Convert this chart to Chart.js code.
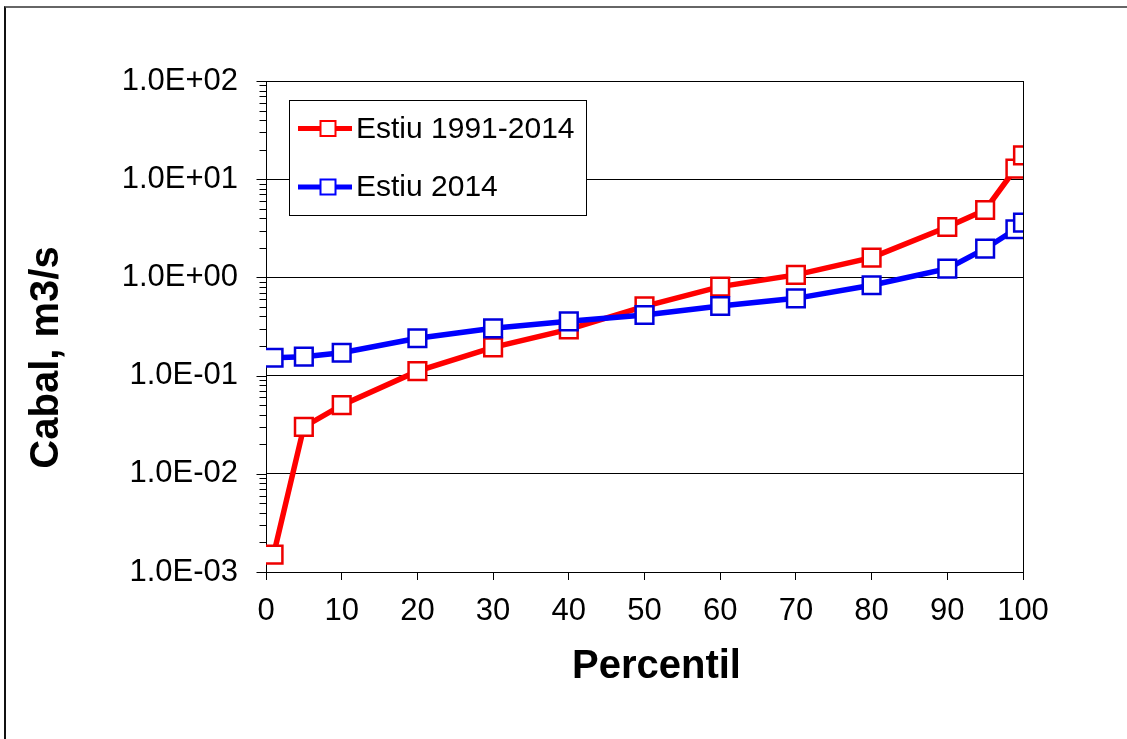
<!DOCTYPE html>
<html>
<head>
<meta charset="utf-8">
<title>Cabal - Percentil</title>
<script src="https://cdn.jsdelivr.net/npm/chart.js@4.4.1/dist/chart.umd.min.js"></script>
<style>
  body { margin: 0; background: #fff; }
  #frame { position: absolute; left: 4px; top: 6px; width: 1123px; height: 733px;
           border-top: 2px solid #666; border-left: 2px solid #111; }
  #wrap { position: absolute; left: 0; top: 0; width: 1127px; height: 739px; }
</style>
</head>
<body>
<div id="frame"></div>
<div id="wrap"><canvas id="myChart" width="1127" height="739"></canvas></div>
<script>
// percentile flow curves, summer period
const percentiles = [1, 5, 10, 20, 30, 40, 50, 60, 70, 80, 90, 95, 99, 100];
const estiu19912014 = [0.0015, 0.030, 0.050, 0.111, 0.194, 0.296, 0.508, 0.805, 1.06, 1.59, 3.26, 4.86, 12.8, 17.5];
const estiu2014 = [0.152, 0.156, 0.171, 0.240, 0.303, 0.357, 0.414, 0.511, 0.612, 0.832, 1.23, 1.96, 3.09, 3.61];
const seriesLabels = ['Estiu 1991-2014', 'Estiu 2014'];

const xTickValues = [0, 10, 20, 30, 40, 50, 60, 70, 80, 90, 100];
const yTickValues = [0.001, 0.01, 0.1, 1, 10, 100];

const xTitle = 'Percentil';
const yTitle = 'Cabal, m3/s';

const FONT = '"Liberation Sans", Arial, sans-serif';

function expLabel(v) {
    const e = Math.round(Math.log10(v));
    return '1.0E' + (e < 0 ? '-' : '+') + String(Math.abs(e)).padStart(2, '0');
}

function toPoints(values) {
    return percentiles.map((p, i) => ({ x: p, y: values[i] }));
}

// y tick marks outside the axis: long for decades, short for 2..9
const yTickMarks = {
    id: 'yTickMarks',
    afterDraw(chart) {
        const ctx = chart.ctx;
        const y = chart.scales.y;
        const left = chart.chartArea.left + 0.5;
        ctx.save();
        ctx.strokeStyle = '#000';
        ctx.lineWidth = 1;
        y.ticks.forEach(t => {
            const py = Math.round(y.getPixelForValue(t.value)) + 0.5;
            const len = t.major ? 10 : 7;
            ctx.beginPath();
            ctx.moveTo(left - len, py);
            ctx.lineTo(left, py);
            ctx.stroke();
        });
        // right edge of the plot
        const a = chart.chartArea;
        ctx.beginPath();
        ctx.moveTo(a.right + 0.5, a.top);
        ctx.lineTo(a.right + 0.5, a.bottom + 1);
        ctx.stroke();
        ctx.restore();
    }
};

// boxed legend inside the plot
const boxLegend = {
    id: 'boxLegend',
    afterDraw(chart) {
        const ctx = chart.ctx;
        const a = chart.chartArea;
        const x0 = a.left + 23, y0 = a.top + 19, w = 297, h = 115;
        ctx.save();
        ctx.fillStyle = '#fff';
        ctx.fillRect(x0, y0, w, h);
        ctx.strokeStyle = '#000';
        ctx.lineWidth = 1;
        ctx.strokeRect(x0 + 0.5, y0 + 0.5, w, h);
        chart.data.datasets.forEach((ds, i) => {
            const cy = y0 + 28.5 + i * 58.5;
            ctx.strokeStyle = ds.borderColor;
            ctx.lineWidth = 5;
            ctx.beginPath();
            ctx.moveTo(x0 + 9, cy);
            ctx.lineTo(x0 + 63, cy);
            ctx.stroke();
            ctx.fillStyle = '#fff';
            ctx.lineWidth = 2;
            ctx.fillRect(x0 + 31.5, cy - 7.5, 15, 15);
            ctx.strokeRect(x0 + 31.5, cy - 7.5, 15, 15);
            ctx.fillStyle = '#000';
            ctx.font = '30px ' + FONT;
            ctx.textAlign = 'left';
            ctx.textBaseline = 'middle';
            ctx.fillText(ds.label, x0 + 67, cy + 1);
        });
        ctx.restore();
    }
};

// axis titles
const axisTitles = {
    id: 'axisTitles',
    afterDraw(chart) {
        const ctx = chart.ctx;
        const a = chart.chartArea;
        ctx.save();
        ctx.fillStyle = '#000';
        ctx.font = 'bold 40px ' + FONT;
        ctx.textAlign = 'center';
        ctx.textBaseline = 'alphabetic';
        ctx.fillText(xTitle, (a.left + a.right) / 2 + 12, a.bottom + 106);
        ctx.translate(47, (a.top + a.bottom) / 2 + 31);
        ctx.rotate(-Math.PI / 2);
        ctx.textBaseline = 'middle';
        ctx.fillText(yTitle, 0, 0);
        ctx.restore();
    }
};

const ctx = document.getElementById('myChart').getContext('2d');
const chart = new Chart(ctx, {
    type: 'line',
    data: {
        datasets: [
            {
                label: seriesLabels[0],
                data: toPoints(estiu19912014),
                borderColor: '#ff0000',
                borderWidth: 5.5,
                pointStyle: 'rect',
                pointRadius: 12.5,
                pointBorderWidth: 2.5,
                pointBackgroundColor: '#fff',
                pointBorderColor: '#ee0000',
                tension: 0,
                order: 2
            },
            {
                label: seriesLabels[1],
                data: toPoints(estiu2014),
                borderColor: '#0000ff',
                borderWidth: 5.5,
                pointStyle: 'rect',
                pointRadius: 12.5,
                pointBorderWidth: 2.5,
                pointBackgroundColor: '#fff',
                pointBorderColor: '#0000dd',
                tension: 0,
                order: 1
            }
        ]
    },
    options: {
        responsive: false,
        animation: false,
        layout: { padding: { left: 0, right: 104, top: 81, bottom: 0 } },
        plugins: {
            legend: { display: false },
            tooltip: { enabled: false }
        },
        scales: {
            x: {
                type: 'linear',
                min: 0,
                max: 100,
                afterBuildTicks(scale) {
                    scale.ticks = xTickValues.map(v => ({ value: v }));
                },
                afterFit(scale) { scale.height = 167; },
                grid: {
                    display: true,
                    drawOnChartArea: false,
                    drawTicks: true,
                    tickLength: 8,
                    color: '#000',
                    lineWidth: 1
                },
                border: { display: true, color: '#000', width: 1 },
                ticks: {
                    padding: 13,
                    color: '#000',
                    autoSkip: false,
                    maxRotation: 0,
                    font: { family: FONT, size: 31 }
                }
            },
            y: {
                type: 'logarithmic',
                min: 0.001,
                max: 100,
                afterBuildTicks(scale) {
                    const ticks = [];
                    yTickValues.forEach((v, i) => {
                        ticks.push({ value: v, major: true });
                        if (i < yTickValues.length - 1) {
                            for (let k = 2; k <= 9; k++) ticks.push({ value: v * k, major: false });
                        }
                    });
                    scale.ticks = ticks;
                },
                afterFit(scale) { scale.width = 266; },
                grid: {
                    drawTicks: false,
                    color: c => (c.tick && c.tick.major ? '#000' : 'rgba(0,0,0,0)'),
                    lineWidth: 1
                },
                border: { display: true, color: '#000', width: 1 },
                ticks: {
                    padding: 28,
                    color: '#000',
                    autoSkip: false,
                    font: { family: FONT, size: 31 },
                    callback: (value, index, ticks) => (ticks[index].major ? expLabel(value) : '')
                }
            }
        }
    },
    plugins: [yTickMarks, axisTitles, boxLegend]
});
</script>
</body>
</html>
